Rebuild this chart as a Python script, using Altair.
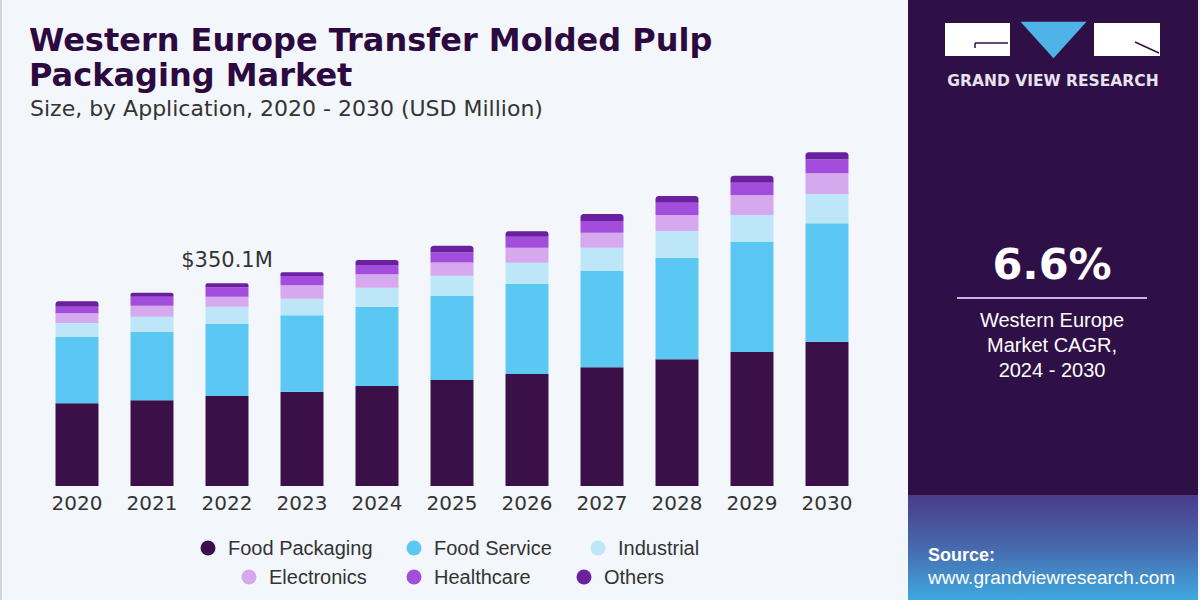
import altair as alt
import pandas as pd

# ---- data (USD Million) ----
years = ["2020", "2021", "2022", "2023", "2024", "2025", "2026", "2027", "2028", "2029", "2030"]
segments = ["Food Packaging", "Food Service", "Industrial", "Electronics", "Healthcare", "Others"]
food_packaging = [142.8, 148.0, 155.4, 162.9, 172.7, 183.1, 193.4, 205.0, 218.8, 231.4, 249.2]
food_service = [114.5, 118.0, 124.3, 131.9, 137.0, 145.1, 155.4, 166.8, 175.5, 190.0, 204.5]
industrial = [24.2, 26.4, 29.9, 28.7, 32.8, 35.1, 36.8, 39.7, 46.1, 46.6, 50.6]
electronics = [16.7, 19.0, 17.3, 23.1, 23.1, 22.5, 25.9, 25.9, 27.6, 34.5, 35.7]
healthcare = [11.4, 15.5, 16.3, 16.1, 16.1, 17.3, 19.0, 20.2, 21.2, 21.2, 24.2]
others = [9.3, 6.9, 6.9, 6.4, 8.6, 11.6, 9.3, 12.1, 11.6, 12.1, 12.1]
callout_year = "2022"
callout_text = "$350.1M"
cagr_text = "6.6%"
cagr_caption = ["Western Europe", "Market CAGR,", "2024 - 2030"]

series = [food_packaging, food_service, industrial, electronics, healthcare, others]
palette = ["#3b0f48", "#5bc8f3", "#bde7f8", "#d6a8ee", "#a24ddb", "#6b209f"]

rows = []
for s_idx, (name, vals) in enumerate(zip(segments, series)):
    for y, v in zip(years, vals):
        rows.append({"year": y, "segment": name, "order": s_idx, "value": v})
df = pd.DataFrame(rows)

W, H = 1200, 600
BASE_Y = 486
PX_PER_M = 1 / 1.727
Y_MAX = 600

x_scale = alt.Scale(domain=years, range=[39.5, 864.5], paddingInner=0.427, paddingOuter=0.2135)
y_scale = alt.Scale(domain=[0, Y_MAX], range=[BASE_Y, BASE_Y - Y_MAX * PX_PER_M], nice=False, zero=True)
color_scale = alt.Scale(domain=segments, range=palette)

TXT = "Liberation Sans"
WIDE = "DejaVu Sans"

stacked = alt.Chart(df).transform_stack(
    stack="value", groupby=["year"], as_=["y0", "y1"],
    sort=[alt.SortField("order", order="ascending")]
)

bars_lower = stacked.transform_filter(alt.datum.segment != "Others").mark_bar().encode(
    x=alt.X("year:N", scale=x_scale, axis=None),
    y=alt.Y("y0:Q", scale=y_scale, axis=None),
    y2="y1:Q",
    color=alt.Color("segment:N", scale=color_scale, legend=None),
)
bars_top = stacked.transform_filter(alt.datum.segment == "Others").mark_bar(
    cornerRadiusTopLeft=3, cornerRadiusTopRight=3
).encode(
    x=alt.X("year:N", scale=x_scale, axis=None),
    y=alt.Y("y0:Q", scale=y_scale, axis=None),
    y2="y1:Q",
    color=alt.Color("segment:N", scale=color_scale, legend=None),
)

# year labels under each bar
year_labels = alt.Chart(pd.DataFrame({"year": years})).mark_text(
    font=WIDE, fontSize=20, color="#333333", baseline="alphabetic"
).encode(
    x=alt.X("year:N", scale=x_scale, axis=None),
    y=alt.value(510),
    text="year:N",
)

# total callout above the 2022 bar
totals = df.groupby("year", as_index=False)["value"].sum()
callout = alt.Chart(totals[totals["year"] == callout_year].assign(label=callout_text)).mark_text(
    font=WIDE, fontSize=21, color="#333333", baseline="alphabetic", dy=-16
).encode(
    x=alt.X("year:N", scale=x_scale, axis=None),
    y=alt.Y("value:Q", scale=y_scale, axis=None),
    text="label:N",
)

one = alt.Data(values=[{}])

left_edge = alt.Chart(one).mark_rect(color="#d3d6da").encode(
    x=alt.value(0), x2=alt.value(2), y=alt.value(0), y2=alt.value(H)
)

title = alt.Chart(one).mark_text(
    font=WIDE, fontWeight="bold", fontSize=32, color="#2c0a40",
    align="left", baseline="alphabetic", lineHeight=35
).encode(
    x=alt.value(29), y=alt.value(51),
    text=alt.value(["Western Europe Transfer Molded Pulp", "Packaging Market"]),
)
subtitle = alt.Chart(one).mark_text(
    font=WIDE, fontSize=22, color="#333333", align="left", baseline="alphabetic"
).encode(
    x=alt.value(30), y=alt.value(116),
    text=alt.value("Size, by Application, 2020 - 2030 (USD Million)"),
)

# legend laid out in two centred rows
legend_slots = [(208, 548), (414, 548), (598, 548), (249, 577), (414, 577), (584, 577)]
legend_df = pd.DataFrame({
    "segment": segments,
    "lx": [p[0] for p in legend_slots],
    "ly": [p[1] for p in legend_slots],
})
legend_dots = alt.Chart(legend_df).mark_point(filled=True, opacity=1, shape="circle", size=225).encode(
    x=alt.X("lx:Q", scale=None), y=alt.Y("ly:Q", scale=None),
    color=alt.Color("segment:N", scale=color_scale, legend=None),
)
legend_text = alt.Chart(legend_df).transform_calculate(tx="datum.lx + 20").mark_text(
    font=TXT, fontSize=20, color="#333333", align="left", baseline="middle", dy=1
).encode(
    x=alt.X("tx:Q", scale=None), y=alt.Y("ly:Q", scale=None),
    text="segment:N",
)

# right-hand panel
PANEL = "#2e0f46"
panel = alt.Chart(one).mark_rect(color=PANEL).encode(
    x=alt.value(908), x2=alt.value(1198), y=alt.value(0), y2=alt.value(H)
)
panel_glow = alt.Chart(one).mark_rect(
    fill=alt.LinearGradient(
        gradient="linear", x1=0, x2=0, y1=0, y2=1,
        stops=[
            alt.GradientStop(color="#4a3b8b", offset=0),
            alt.GradientStop(color="#4869ad", offset=0.5),
            alt.GradientStop(color="#3ea9e0", offset=1),
        ],
    )
).encode(x=alt.value(908), x2=alt.value(1198), y=alt.value(495), y2=alt.value(H))

logo_left = alt.Chart(one).mark_rect(color="#ffffff").encode(
    x=alt.value(945), x2=alt.value(1010), y=alt.value(23), y2=alt.value(56)
)
logo_right = alt.Chart(one).mark_rect(color="#ffffff").encode(
    x=alt.value(1094), x2=alt.value(1160), y=alt.value(23), y2=alt.value(56)
)
logo_g_h = alt.Chart(one).mark_rule(color=PANEL, strokeWidth=1.5).encode(
    x=alt.value(975), x2=alt.value(1008), y=alt.value(43)
)
logo_g_v = alt.Chart(one).mark_rule(color=PANEL, strokeWidth=1.5).encode(
    x=alt.value(975), y=alt.value(43), y2=alt.value(48)
)
logo_r = alt.Chart(one).mark_rule(color=PANEL, strokeWidth=1.5).encode(
    x=alt.value(1135), x2=alt.value(1159), y=alt.value(42), y2=alt.value(53)
)
logo_tri = alt.Chart(one).mark_point(
    shape="M-1,-0.55L1,-0.55L0,0.55Z", filled=True, opacity=1, color="#4fb3e8", size=4356
).encode(x=alt.value(1053.5), y=alt.value(40))
logo_text = alt.Chart(one).mark_text(
    font=WIDE, fontWeight="bold", fontSize=15.5, color="#e6e2ee", align="center",
    baseline="alphabetic"
).encode(x=alt.value(1053), y=alt.value(86), text=alt.value("GRAND VIEW RESEARCH"))

cagr = alt.Chart(one).mark_text(
    font=WIDE, fontWeight="bold", fontSize=43, color="#ffffff", align="center",
    baseline="alphabetic"
).encode(x=alt.value(1052), y=alt.value(279), text=alt.value(cagr_text))
cagr_rule = alt.Chart(one).mark_rule(color="#c9b3e0", strokeWidth=2).encode(
    x=alt.value(957), x2=alt.value(1147), y=alt.value(298)
)
cagr_label = alt.Chart(one).mark_text(
    font=TXT, fontSize=20, color="#ffffff", align="center", baseline="alphabetic", lineHeight=25
).encode(x=alt.value(1052), y=alt.value(327), text=alt.value(cagr_caption))

source_head = alt.Chart(one).mark_text(
    font=TXT, fontWeight="bold", fontSize=18, color="#ffffff", align="left", baseline="alphabetic"
).encode(x=alt.value(928), y=alt.value(561), text=alt.value("Source:"))
source_url = alt.Chart(one).mark_text(
    font=TXT, fontSize=19, color="#ffffff", align="left", baseline="alphabetic"
).encode(x=alt.value(928), y=alt.value(584), text=alt.value("www.grandviewresearch.com"))

chart = alt.layer(
    left_edge, title, subtitle,
    bars_lower, bars_top, year_labels, callout,
    legend_dots, legend_text,
    panel, panel_glow,
    logo_left, logo_right, logo_g_h, logo_g_v, logo_r, logo_tri, logo_text,
    cagr, cagr_rule, cagr_label, source_head, source_url,
).properties(
    width=W, height=H, padding=0, background="#f3f7fb",
    autosize=alt.AutoSizeParams(type="none"),
).configure_view(stroke=None)

chart.save("out.html", embed_options={"renderer": "svg", "actions": False})
